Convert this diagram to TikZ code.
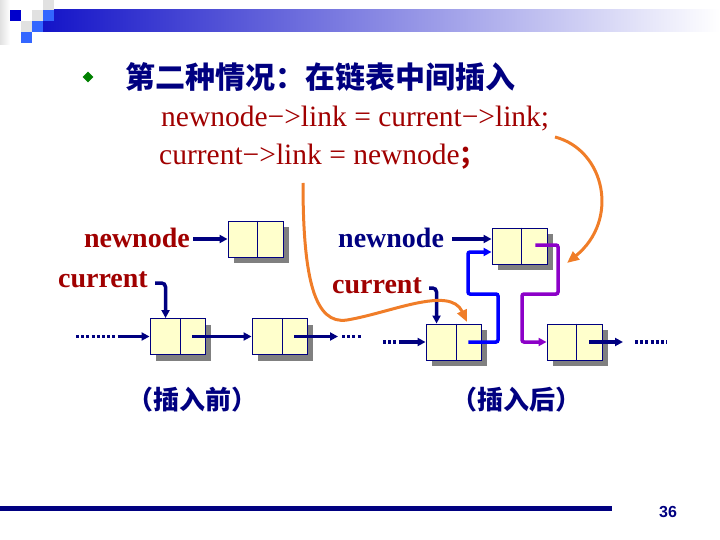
\documentclass[tikz,border=0pt]{standalone}
\usepackage{fontspec}
\setmainfont{Liberation Serif}
\newfontfamily\cjk{Noto Sans CJK SC}
\newfontfamily\arialf{Liberation Sans}
\usetikzlibrary{arrows.meta,calc,shadows,shapes.geometric}
\definecolor{navy}{RGB}{0,0,128}
\definecolor{dred}{RGB}{160,0,0}
\definecolor{boxfill}{RGB}{255,255,204}
\definecolor{brblue}{RGB}{0,0,255}
\definecolor{purp}{RGB}{140,0,200}
\definecolor{orng}{RGB}{240,125,40}
\definecolor{dkblue}{RGB}{0,0,204}
\definecolor{ltblue}{RGB}{51,102,255}
\definecolor{bargray}{RGB}{225,225,225}
\begin{document}
\begin{tikzpicture}[x=1pt,y=-1pt,
  lbox/.style={draw=navy,line width=0.9pt,fill=boxfill,minimum width=55pt,minimum height=36pt,inner sep=0pt,
    drop shadow={shadow xshift=6pt,shadow yshift=-6pt,fill={rgb,255:red,128;green,128;blue,128},opacity=1}},
  link/.style={navy,line width=3.5pt,-{Triangle[length=8pt,width=8pt]}},
  dots/.style={navy,line width=3.5pt,dash pattern=on 3pt off 2.2pt},
  bconn/.style={brblue,line width=3.5pt,rounded corners=2pt,-{Triangle[length=8pt,width=8pt]}},
  pconn/.style={purp,line width=3.5pt,rounded corners=2pt,-{Triangle[length=8pt,width=8pt]}},
  oconn/.style={orng,line width=3pt,-{Triangle[length=12pt,width=10pt]}},
  lbl/.style={font=\fontsize{28}{30}\selectfont\bfseries},
  codetxt/.style={dred,anchor=west,font=\fontsize{29.5}{32}\selectfont},
  captxt/.style={navy,font=\cjk\bfseries\fontsize{26}{28}\selectfont}
]
\useasboundingbox (0,0) rectangle (720,540);
% header decoration
\shade[left color=bargray,right color=white] (0,0) rectangle (10,45);
\shade[left color={rgb,255:red,20;green,20;blue,200},right color=white] (43,10) rectangle (720,32);
\fill[dkblue] (10,10) rectangle (21,21);
\fill[bargray] (32,10) rectangle (43,21);
\fill[bargray] (21,21) rectangle (32,32);
\fill[bargray] (43,0) rectangle (54,10);
\fill[ltblue] (43,10) rectangle (54,21);
\fill[ltblue] (32,21) rectangle (43,32);
\fill[ltblue] (21,32) rectangle (32,43);
% footer
\fill[navy] (0,506) rectangle (612,511);
\node[navy,font=\arialf\bfseries\fontsize{16}{18}\selectfont] (pg) at (668,512) {36};
% title and code
\node[diamond,fill={rgb,255:red,0;green,128;blue,0},minimum size=11pt,inner sep=0pt] (bul) at (88,77) {};
\node[anchor=west,navy,font=\cjk\bfseries\fontsize{30}{34}\selectfont,inner sep=0pt] (title) at (125,77) {第二种情况：在链表中间插入};
\node[codetxt,inner sep=0pt] (code1) at (161,119) {newnode−>link = current−>link;};
\node[codetxt,inner sep=0pt] (code2) at (159,157) {current−>link = newnode{\cjk\bfseries\fontsize{26}{28}\selectfont ；}};
% left diagram (before)
\node[lbl,dred,anchor=east,inner sep=0pt] (nn1) at (190,238) {newnode};
\node[lbox] (nbox1) at (255.5,239) {};
\draw[navy,line width=0.9pt] ($(nbox1.north west)+(30,0)$) -- ($(nbox1.south west)+(30,0)$);
\node[lbl,dred,anchor=east,inner sep=0pt] (cur1) at (148,280) {current};
\node[lbox] (b1) at (177.5,336.5) {};
\draw[navy,line width=0.9pt] ($(b1.north west)+(31,0)$) -- ($(b1.south west)+(31,0)$);
\node[lbox] (b2) at (279.5,336.5) {};
\draw[navy,line width=0.9pt] ($(b2.north west)+(31,0)$) -- ($(b2.south west)+(31,0)$);
\coordinate (a1) at ($(nn1.east)+(3,1)$);
\draw[link] (a1) -- (a1 -| nbox1.west);
\draw[link,rounded corners=4pt] ($(cur1.east)+(7,3)$) -| ($(b1.north west)+(16,0)$);
\coordinate (ld1) at (76,336.5);
\coordinate (ld1b) at (118,336.5);
\draw[dots] (ld1) -- (ld1b);
\draw[link] (ld1b) -- (b1.west);
\draw[link] ($(b1.east)+(-13,0)$) -- (b2.west);
\coordinate (t1) at (338,336.5);
\coordinate (t1d) at (342,336.5);
\coordinate (t1e) at (362,336.5);
\draw[link] ($(b2.east)+(-13,0)$) -- (t1);
\draw[dots] (t1d) -- (t1e);
\node[captxt] (capL) at (192,400) {（插入前）};
% right diagram (after)
\node[lbl,navy,anchor=west,inner sep=0pt] (nn2) at (338,238) {newnode};
\node[lbox] (nbox2) at (519.5,246) {};
\draw[navy,line width=0.9pt] ($(nbox2.north west)+(30,0)$) -- ($(nbox2.south west)+(30,0)$);
\node[lbl,dred,anchor=west,inner sep=0pt] (cur2) at (332,286) {current};
\node[lbox] (b3) at (453.5,342) {};
\draw[navy,line width=0.9pt] ($(b3.north west)+(31,0)$) -- ($(b3.south west)+(31,0)$);
\node[lbox] (b4) at (574.5,342) {};
\draw[navy,line width=0.9pt] ($(b4.north west)+(30,0)$) -- ($(b4.south west)+(30,0)$);
\coordinate (a2) at ($(nn2.east)+(8,1)$);
\draw[link] (a2) -- (a2 -| nbox2.west);
\draw[link,rounded corners=4pt] ($(cur2.east)+(7,2)$) -| ($(b3.north west)+(11,0)$);
\coordinate (ld2) at (383,342);
\coordinate (ld2b) at (401,342);
\draw[dots] (ld2) -- (ld2b);
\draw[link] (ld2b) -- (b3.west);
\draw[bconn] ($(b3.east)+(-13,0)$) -- (498,342) -- (498,294) -- (468,294) -- (468,252) -- ($(nbox2.west)+(0,6)$);
\draw[pconn] ($(nbox2.east)+(-12,-1)$) -- (558,245) -- (558,294) -- (522,294) -- (522,342) -- (b4.west);
\coordinate (t2) at (623,342);
\coordinate (t2d) at (635,342);
\coordinate (t2e) at (667,342);
\draw[link] ($(b4.east)+(-13,0)$) -- (t2);
\draw[dots] (t2d) -- (t2e);
\node[captxt] (capR) at (516,400) {（插入后）};
% orange curves
\coordinate (o1s) at (555,137);
\coordinate (o1e) at (567,263);
\draw[oconn] (o1s) .. controls (605,150) and (620,220) .. (o1e);
\coordinate (o2s) at (303,183);
\coordinate (o2m) at (347,320);
\coordinate (o2e) at (467,322);
\draw[oconn] (o2s) .. controls (303,280) and (315,325) .. (o2m) .. controls (390,313) and (450,285) .. (o2e);
\end{tikzpicture}
\end{document}
